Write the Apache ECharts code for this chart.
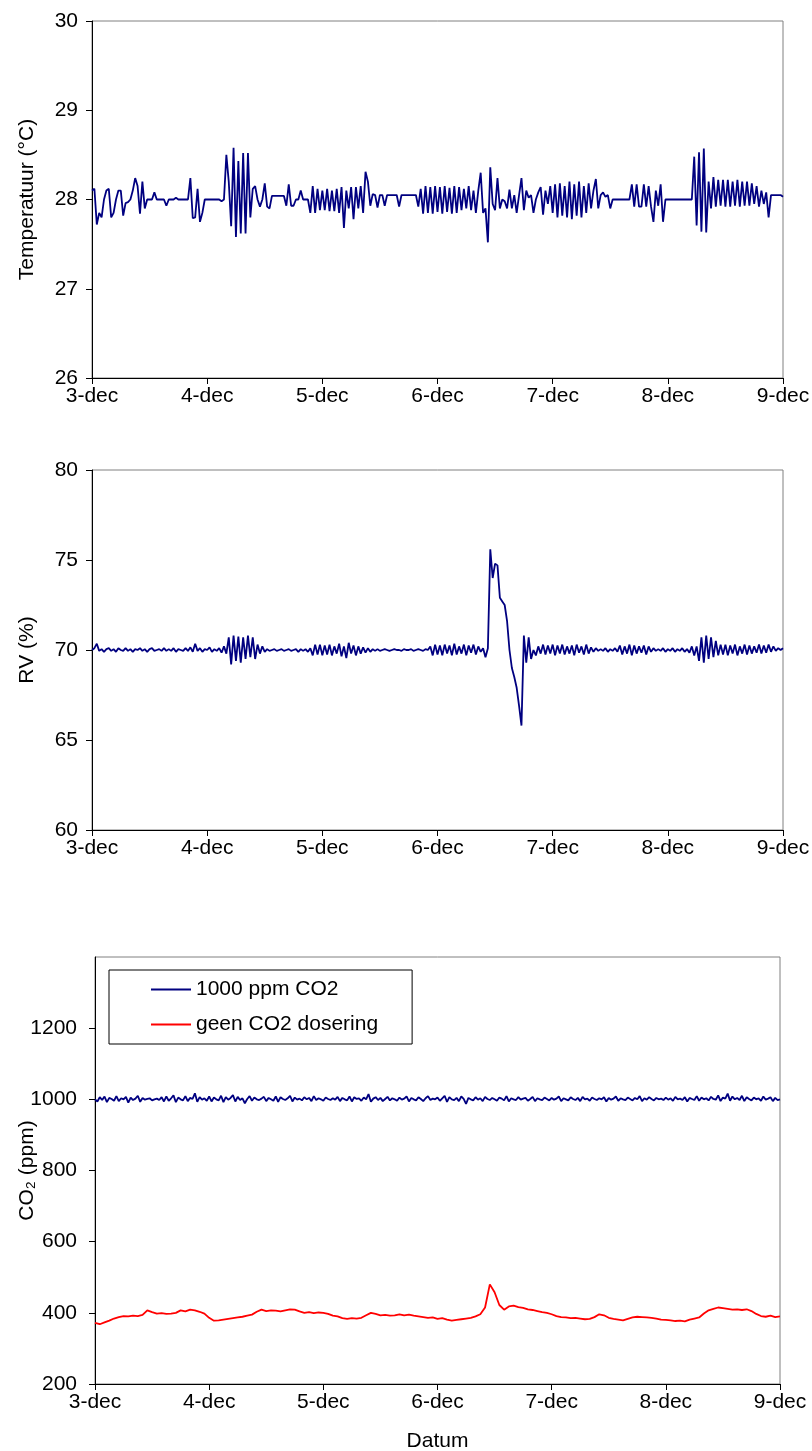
<!DOCTYPE html>
<html>
<head>
<meta charset="utf-8">
<script src="https://cdn.jsdelivr.net/npm/echarts@6/dist/echarts.min.js"></script>
<style>
  html, body { margin: 0; padding: 0; background: #fff; }
  #chart { width: 812px; height: 1451px; }
</style>
</head>
<body>
<div id="chart"></div>
<script>
// dag-labels op de x-as (3 t/m 9 december)
const dagLabels = ['3-dec', '4-dec', '5-dec', '6-dec', '7-dec', '8-dec', '9-dec'];

// temperatuur (°C), elk half uur
const temperatuur = [
  28.1, 28.12, 27.72, 27.85, 27.8, 28.0, 28.1, 28.12, 27.8, 27.85,
  28.0, 28.1, 28.1, 27.82, 27.96, 27.97, 28.0, 28.1, 28.24, 28.15,
  27.84, 28.2, 27.9, 28.0, 28.0, 28.0, 28.08, 28.0, 28.0, 28.0,
  28.0, 27.93, 28.0, 28.0, 28.0, 28.02, 28.0, 28.0, 28.0, 28.0,
  28.0, 28.24, 27.79, 27.8, 28.12, 27.75, 27.85, 28.0,
  28.0, 28.0, 28.0, 28.0, 28.0, 28.0, 27.98, 28.0, 28.5, 28.2,
  27.7, 28.58, 27.58, 28.43, 27.62, 28.52, 27.62, 28.52, 27.8, 28.12,
  28.15, 28.0, 27.92, 28.0, 28.18, 27.92, 27.9, 28.04, 28.04, 28.04,
  28.04, 28.04, 28.04, 27.93, 28.17, 27.93, 27.93, 28.0, 28.0, 28.1,
  28.0, 28.0, 28.0, 27.85, 28.15, 27.85, 28.12, 27.88,
  28.1, 27.88, 28.12, 27.87, 28.1, 27.87, 28.12, 27.85, 28.14, 27.68,
  28.1, 27.9, 28.14, 27.78, 28.14, 27.9, 28.15, 27.85, 28.31, 28.2,
  27.93, 28.06, 28.05, 27.91, 28.05, 28.05, 27.93, 28.05, 28.05, 28.05,
  28.05, 28.05, 27.92, 28.05, 28.05, 28.05, 28.05, 28.05, 28.05, 28.05,
  27.92, 28.12, 27.84, 28.15, 27.85, 28.14, 27.84, 28.15,
  27.86, 28.14, 27.84, 28.15, 27.86, 28.13, 27.84, 28.15, 27.85, 28.14,
  27.88, 28.12, 27.9, 28.15, 27.88, 28.1, 27.85, 28.1, 28.3, 27.85,
  27.9, 27.52, 28.36, 27.95, 27.88, 28.24, 27.9, 28.0, 27.98, 27.9,
  28.11, 27.9, 28.05, 27.85, 28.05, 28.24, 27.88, 28.1, 28.02, 28.05,
  27.85, 28.0, 28.08, 28.14, 27.83, 28.1, 27.95, 28.15,
  27.85, 28.17, 27.8, 28.18, 27.82, 28.15, 27.8, 28.2, 27.78, 28.17,
  27.82, 28.2, 27.8, 28.15, 27.85, 28.18, 27.9, 28.1, 28.23, 27.9,
  28.05, 28.08, 28.03, 28.05, 27.9, 28.0, 28.0, 28.0, 28.0, 28.0,
  28.0, 28.0, 28.0, 28.17, 27.92, 28.17, 27.92, 27.92, 28.17, 27.92,
  28.15, 27.92, 27.75, 28.1, 27.93, 28.17, 27.75, 28.0,
  28.0, 28.0, 28.0, 28.0, 28.0, 28.0, 28.0, 28.0, 28.0, 28.0, 28.0,
  28.48, 27.71, 28.53, 27.64, 28.57, 27.63, 28.2, 27.9, 28.25, 27.92,
  28.22, 27.93, 28.22, 27.92, 28.22, 27.92, 28.2, 27.93, 28.22, 27.92,
  28.2, 27.93, 28.2, 27.93, 28.18, 27.95, 28.15, 27.92, 28.1, 27.95,
  28.08, 27.8, 28.05, 28.05, 28.05, 28.05, 28.05, 28.03
];

// relatieve luchtvochtigheid (%), elk half uur
const rv = [
  70.0, 70.1, 70.35, 69.95, 70.05, 69.9, 70.05, 70.1, 69.95, 70.05,
  69.9, 70.1, 70.0, 69.95, 70.1, 69.95, 70.05, 69.9, 70.05, 70.0,
  70.1, 69.95, 70.05, 69.9, 70.05, 70.1, 69.95, 70.0, 70.05, 69.95,
  70.1, 69.95, 70.05, 69.95, 70.1, 69.9, 70.05, 70.0, 69.95, 70.1,
  69.95, 70.15, 69.9, 70.35, 69.95, 70.1, 69.9, 70.05,
  70.0, 70.15, 69.9, 70.05, 69.95, 70.1, 69.85, 70.2, 69.8, 70.7,
  69.2, 70.8, 69.4, 70.75, 69.3, 70.7, 69.5, 70.8, 69.6, 70.7,
  69.5, 70.3, 69.8, 70.2, 69.9, 70.05, 69.95, 70.0, 70.05, 69.95,
  70.0, 70.05, 69.95, 70.0, 70.05, 69.95, 70.0, 70.05, 69.9, 70.05,
  69.95, 70.05, 69.9, 70.1, 69.7, 70.3, 69.75, 70.3,
  69.7, 70.25, 69.75, 70.3, 69.7, 70.2, 69.8, 70.35, 69.65, 70.2,
  69.55, 70.4, 69.8, 70.25, 69.7, 70.2, 69.8, 70.15, 69.85, 70.1,
  69.9, 70.05, 69.95, 70.05, 69.95, 70.0, 70.05, 70.0, 69.95, 70.0,
  70.05, 70.0, 70.0, 69.95, 70.05, 70.0, 70.0, 70.05, 69.95, 70.0,
  70.05, 70.0, 69.95, 70.05, 70.0, 70.2, 69.7, 70.3,
  69.75, 70.25, 69.7, 70.3, 69.8, 70.25, 69.7, 70.35, 69.75, 70.2,
  69.8, 70.3, 69.7, 70.25, 69.85, 70.3, 69.75, 70.2, 69.9, 70.1,
  69.6, 70.1, 75.6, 74.0, 74.8, 74.7, 72.9, 72.7, 72.5, 71.6,
  70.0, 69.0, 68.5, 67.9, 66.9, 65.8, 70.8, 69.3, 70.7, 69.5,
  70.0, 69.7, 70.2, 69.8, 70.3, 69.75, 70.25, 69.8,
  70.3, 69.7, 70.25, 69.8, 70.3, 69.75, 70.2, 69.8, 70.25, 69.7,
  70.3, 69.85, 70.2, 69.75, 70.3, 69.8, 70.15, 69.9, 70.1, 69.95,
  70.05, 69.95, 70.1, 69.9, 70.05, 69.95, 70.1, 69.9, 70.25, 69.75,
  70.2, 69.8, 70.3, 69.7, 70.25, 69.8, 70.2, 69.85, 70.25, 69.75,
  70.2, 69.9, 70.1, 69.95, 70.05, 69.95, 70.1, 69.9,
  70.05, 69.95, 70.1, 69.9, 70.05, 69.95, 70.1, 69.9, 70.05, 69.85,
  70.2, 69.7, 70.2, 69.4, 70.7, 69.3, 70.8, 69.5, 70.7, 69.6,
  70.5, 69.7, 70.3, 69.75, 70.3, 69.7, 70.25, 69.8, 70.3, 69.7,
  70.2, 69.8, 70.3, 69.75, 70.25, 69.8, 70.2, 69.85, 70.3, 69.8,
  70.25, 69.85, 70.3, 69.9, 70.2, 69.95, 70.1, 70.0, 70.1
];

// CO2 (ppm) bij dosering tot 1000 ppm, elk half uur
const co2Dosering = [
  1000, 994, 1006, 998, 1008, 992, 1004, 1001, 996, 1009, 995, 1003, 1000, 1007, 991, 1005,
  998, 1002, 1010, 993, 1004, 999, 1001, 1003, 997, 1000, 1002, 998, 1006, 994, 1008, 996,
  1003, 1011, 992, 1005, 1000, 997, 1009, 995, 1004, 1001, 1017, 993, 1006, 999, 1003, 996,
  1008, 994, 1005, 1000, 997, 1010, 992, 1006, 999, 1004, 1012, 994, 1007, 998, 1003, 989,
  1001, 1009, 996, 1005, 1000, 998, 1002, 1007, 995, 1004, 1000, 996, 1008, 993, 1006, 1001,
  998, 1003, 1010, 994, 1005, 999, 1002, 997, 1006, 1000, 1004, 995, 1009, 998, 1003, 1000,
  996, 1005, 1001, 998, 1003, 999, 1007, 995, 1004, 1000, 997, 1008, 994, 1006, 1001, 1003,
  996, 1005, 1000, 1015, 993, 1002, 1006, 998, 1004, 995, 1001, 1007, 997, 1003, 1000, 996,
  1005, 999, 1002, 1008, 994, 1004, 1000, 997, 1006, 1001, 995, 1003, 1009, 998, 1002, 1000,
  1005, 996, 1003, 1010, 993, 1006, 1000, 998, 1004, 995, 1008, 1001, 987, 1004, 1000, 997,
  1006, 999, 1003, 995, 1007, 1001, 998, 1004, 1000, 996, 1005, 1002, 997, 1009, 994, 1003,
  1000, 998, 1006, 999, 1002, 1004, 996, 1001, 1007, 995, 1003, 1000, 998, 1005, 1001, 997,
  1004, 999, 1002, 1008, 995, 1003, 1000, 997, 1006, 1001, 998, 1004, 995, 1007, 1000, 1002,
  996, 1005, 1001, 998, 1003, 1000, 1006, 994, 1004, 999, 1002, 1008, 996, 1003, 1000, 998,
  1005, 1001, 997, 1004, 1000, 1009, 995, 1003, 999, 1006, 1001, 997, 1004, 1000, 1002, 998,
  1005, 999, 1003, 996, 1007, 1000, 1002, 998, 1006, 994, 1004, 1001, 998, 1009, 996, 1005,
  1000, 1003, 997, 1007, 1001, 999, 1011, 995, 1005, 1002, 1016, 996, 1008, 1000, 1004, 998,
  1010, 995, 1006, 1001, 997, 1005, 1000, 1003, 996, 1008, 999, 1002, 1006, 995, 1004, 998,
  1000
];

// CO2 (ppm) zonder dosering, elk uur
const co2Geen = [
  372, 368, 373, 378, 384, 388, 391, 390, 392, 391, 394, 407, 402, 398, 399, 397, 398, 400, 407, 404, 409, 407, 403, 398,
  386, 378, 379, 381, 383, 385, 387, 389, 392, 395, 403, 409, 405, 407, 406, 404, 407, 410, 409, 404, 400, 402, 399, 401,
  400, 397, 392, 390, 385, 383, 385, 384, 386, 393, 400, 397, 393, 394, 392, 393, 396, 393, 395, 392, 390, 388, 386, 387,
  383, 385, 381, 378, 380, 382, 384, 386, 390, 396, 415, 480, 458, 422, 409, 418, 420, 416, 414, 410, 408, 405, 402, 400,
  396, 391, 388, 387, 385, 386, 384, 382, 383, 388, 396, 393, 386, 383, 381, 379, 383, 387, 389, 388, 387, 386, 384, 381,
  380, 379, 377, 378, 376, 381, 384, 387, 398, 407, 411, 415, 413, 411, 409, 410, 408, 410, 405, 397, 391, 389, 392, 388,
  390
];

const legendaNamen = ['1000 ppm CO2', 'geen CO2 dosering'];

const font = 'Liberation Sans, Arial, sans-serif';
const blauw = '#000080';
const rood = '#ff0000';

// metingen gelijk verdeeld over 6 dagen
function naarPunten(waarden) {
  const stap = 6 / (waarden.length - 1);
  return waarden.map((v, i) => [i * stap, v]);
}

function xAs(grid, extra) {
  return Object.assign({
    gridIndex: grid,
    type: 'value',
    min: 0,
    max: 6,
    interval: 1,
    axisLine: { show: true, onZero: false, lineStyle: { color: '#000', width: 1 } },
    axisTick: { show: true, length: 6, lineStyle: { color: '#000' } },
    axisLabel: {
      color: '#000', fontSize: 21, fontFamily: font, margin: 8,
      formatter: v => dagLabels[Math.round(v)]
    },
    splitLine: { show: false }
  }, extra || {});
}

function yAs(grid, min, max, interval, naam, gap, marge, extra) {
  return Object.assign({
    gridIndex: grid,
    type: 'value',
    min: min,
    max: max,
    interval: interval,
    name: naam,
    nameLocation: 'middle',
    nameGap: gap,
    nameMoveOverlap: false,
    nameTextStyle: { color: '#000', fontSize: 21, fontFamily: font },
    axisLine: { show: true, lineStyle: { color: '#000', width: 1 } },
    axisTick: { show: true, length: 6, lineStyle: { color: '#000' } },
    axisLabel: { color: '#000', fontSize: 21, fontFamily: font, margin: marge, formatter: v => String(v) },
    splitLine: { show: false }
  }, extra || {});
}

const chart = echarts.init(document.getElementById('chart'), null, { renderer: 'canvas' });

const rand = {
  show: true, borderColor: '#808080', borderWidth: 1, backgroundColor: 'transparent',
  containLabel: false, outerBoundsMode: 'none'
};

const option = {
  backgroundColor: '#fff',
  animation: false,
  textStyle: { fontFamily: font },
  grid: [
    Object.assign({ left: 92, top: 21, width: 691, height: 357 }, rand),
    Object.assign({ left: 92, top: 470, width: 691, height: 360 }, rand),
    Object.assign({ left: 95, top: 957, width: 685, height: 427 }, rand)
  ],
  xAxis: [
    xAs(0),
    xAs(1),
    xAs(2, {
      name: 'Datum',
      nameLocation: 'middle',
      nameGap: 47,
      nameMoveOverlap: false,
      nameTextStyle: { color: '#000', fontSize: 21, fontFamily: font }
    })
  ],
  yAxis: [
    yAs(0, 26, 30, 1, 'Temperatuur (°C)', 54, 14),
    yAs(1, 60, 80, 5, 'RV (%)', 54, 14),
    yAs(2, 200, 1400, 200, 'CO₂ (ppm)', 57, 18),
  ],
  legend: {
    data: legendaNamen,
    orient: 'vertical',
    left: 109,
    top: 970,
    padding: [9, 34, 9, 42],
    itemGap: 14,
    itemWidth: 40,
    itemHeight: 2,
    icon: 'rect',
    borderColor: '#000',
    borderWidth: 1,
    backgroundColor: '#fff',
    textStyle: { color: '#000', fontSize: 21, fontFamily: font }
  },
  series: [
    {
      name: 'Temperatuur', type: 'line', xAxisIndex: 0, yAxisIndex: 0,
      data: naarPunten(temperatuur), showSymbol: false, symbol: 'none',
      lineStyle: { color: blauw, width: 1.8 }, itemStyle: { color: blauw }
    },
    {
      name: 'RV', type: 'line', xAxisIndex: 1, yAxisIndex: 1,
      data: naarPunten(rv), showSymbol: false, symbol: 'none',
      lineStyle: { color: blauw, width: 1.8 }, itemStyle: { color: blauw }
    },
    {
      name: legendaNamen[0], type: 'line', xAxisIndex: 2, yAxisIndex: 2,
      data: naarPunten(co2Dosering), showSymbol: false, symbol: 'none',
      lineStyle: { color: blauw, width: 1.8 }, itemStyle: { color: blauw }
    },
    {
      name: legendaNamen[1], type: 'line', xAxisIndex: 2, yAxisIndex: 2,
      data: naarPunten(co2Geen), showSymbol: false, symbol: 'none',
      lineStyle: { color: rood, width: 1.8 }, itemStyle: { color: rood }
    }
  ]
};

// 1400 staat niet als label op de CO2-as
option.yAxis[2].axisLabel.showMaxLabel = false;

chart.setOption(option);
</script>
</body>
</html>
